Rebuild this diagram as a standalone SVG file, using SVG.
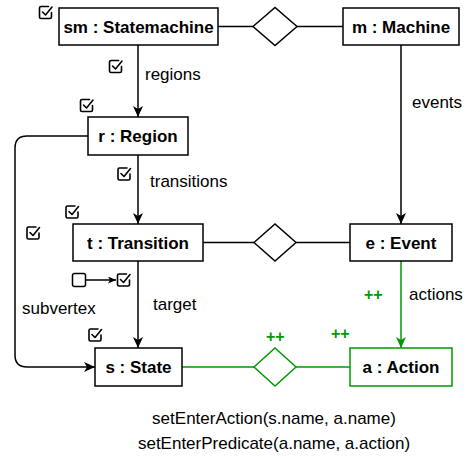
<svg xmlns="http://www.w3.org/2000/svg" width="466" height="458" viewBox="0 0 466 458">
  <style>
    .box { fill: #ffffff; stroke: #000000; stroke-width: 1.5; }
    .box.new { stroke: #009900; }
    .dia { fill: #ffffff; stroke: #000000; stroke-width: 1.5; }
    .dia.new { stroke: #009900; }
    .name { font-family: "Liberation Sans", Arial, sans-serif; font-size: 17px; font-weight: bold; fill: #000000; text-anchor: middle; dominant-baseline: central; }
    .lbl { font-family: "Liberation Sans", Arial, sans-serif; font-size: 17px; fill: #000000; }
    .plus { font-family: "Liberation Sans", Arial, sans-serif; font-size: 16px; font-weight: bold; fill: #009900; }
    .code { font-family: "Liberation Sans", Arial, sans-serif; font-size: 17px; fill: #000000; text-anchor: middle; }
    .edge { fill: none; stroke: #000000; stroke-width: 1.5; }
    .edge.new { stroke: #009900; }
    .chk { fill: none; stroke: #000000; stroke-width: 1.6; stroke-linecap: round; stroke-linejoin: round; }
  </style>
  <defs>
    <marker id="arrow" viewBox="0 0 11 10" refX="11" refY="5" markerWidth="11" markerHeight="10" markerUnits="userSpaceOnUse" orient="auto">
      <path d="M0,0 L11,5 L0,10 L3,5 z" fill="#000000"/>
    </marker>
    <marker id="arrow-new" viewBox="0 0 11 10" refX="11" refY="5" markerWidth="11" markerHeight="10" markerUnits="userSpaceOnUse" orient="auto">
      <path d="M0,0 L11,5 L0,10 L3,5 z" fill="#009900"/>
    </marker>
    <marker id="arrow-small" viewBox="0 0 8 7" refX="8" refY="3.5" markerWidth="8" markerHeight="7" markerUnits="userSpaceOnUse" orient="auto">
      <path d="M0,0 L8,3.5 L0,7 L2,3.5 z" fill="#000000"/>
    </marker>
    <!-- checked-box icon, 14x14 -->
    <g id="check">
      <path class="chk" d="M10,1 H2.5 Q1,1 1,2.5 V11.5 Q1,13 2.5,13 H11.5 Q13,13 13,11.5 V7"/>
      <path class="chk" d="M4,6.5 L7,9.5 L13.5,1.5"/>
    </g>
  </defs>

  <!-- connectors -->
  <g id="edges">
    <line class="edge" x1="218" y1="26.5" x2="253" y2="26.5"/>
    <line class="edge" x1="297" y1="26.5" x2="343" y2="26.5"/>
    <line class="edge" x1="138" y1="45" x2="138" y2="117" marker-end="url(#arrow)"/>
    <line class="edge" x1="401" y1="45" x2="401" y2="224" marker-end="url(#arrow)"/>
    <line class="edge" x1="138" y1="155" x2="138" y2="224" marker-end="url(#arrow)"/>
    <line class="edge" x1="203" y1="242.5" x2="254" y2="242.5"/>
    <line class="edge" x1="296" y1="242.5" x2="350" y2="242.5"/>
    <line class="edge" x1="138" y1="261" x2="138" y2="348" marker-end="url(#arrow)"/>
    <path class="edge" d="M88,136 H27 Q15,136 15,148 V355 Q15,367 27,367 H95" marker-end="url(#arrow)"/>
    <line class="edge new" x1="401" y1="261" x2="401" y2="348" marker-end="url(#arrow-new)"/>
    <line class="edge new" x1="182" y1="367" x2="254" y2="367"/>
    <line class="edge new" x1="296" y1="367" x2="350" y2="367"/>
    <line class="edge" x1="86" y1="280" x2="116" y2="280" stroke-width="1.2" marker-end="url(#arrow-small)"/>
  </g>

  <!-- association diamonds -->
  <g id="link-sm-m"><polygon class="dia" points="253,26.5 275,7.5 297,26.5 275,45.5"/></g>
  <g id="link-t-e"><polygon class="dia" points="254,242.5 275,224 296,242.5 275,261"/></g>
  <g id="link-s-a"><polygon class="dia new" points="254,367 275,348 296,367 275,386"/></g>

  <!-- nodes -->
  <g id="sm">
    <rect class="box" x="59" y="8" width="159" height="37"/>
    <text class="name" x="138.5" y="27">sm : Statemachine</text>
  </g>
  <g id="m">
    <rect class="box" x="343" y="8" width="116" height="37"/>
    <text class="name" x="401" y="27">m : Machine</text>
  </g>
  <g id="r">
    <rect class="box" x="88" y="117" width="100" height="38"/>
    <text class="name" x="138" y="136.5">r : Region</text>
  </g>
  <g id="t">
    <rect class="box" x="73" y="224" width="130" height="37"/>
    <text class="name" x="138" y="243">t : Transition</text>
  </g>
  <g id="e">
    <rect class="box" x="350" y="224" width="102" height="37"/>
    <text class="name" x="401" y="243">e : Event</text>
  </g>
  <g id="s">
    <rect class="box" x="95" y="348" width="87" height="38"/>
    <text class="name" x="138.5" y="367.5">s : State</text>
  </g>
  <g id="a">
    <rect class="box new" x="350" y="348" width="102" height="38"/>
    <text class="name" x="401" y="367.5">a : Action</text>
  </g>

  <!-- status markers -->
  <g id="checks">
    <use href="#check" x="38.5" y="5.5"/>
    <use href="#check" x="108.5" y="59.5"/>
    <use href="#check" x="79.5" y="98.5"/>
    <use href="#check" x="117" y="167"/>
    <use href="#check" x="65" y="205"/>
    <use href="#check" x="26" y="226"/>
    <use href="#check" x="116.5" y="273"/>
    <use href="#check" x="88" y="328"/>
    <rect x="72.5" y="273.5" width="13" height="13" rx="2" fill="none" stroke="#000000" stroke-width="1.5"/>
  </g>

  <!-- edge labels -->
  <g id="labels">
    <text class="lbl" x="145" y="80">regions</text>
    <text class="lbl" x="412" y="108">events</text>
    <text class="lbl" x="150" y="187">transitions</text>
    <text class="lbl" x="153" y="310">target</text>
    <text class="lbl" x="22" y="314">subvertex</text>
    <text class="lbl" x="409" y="300">actions</text>
    <text class="plus" x="364" y="300">++</text>
    <text class="plus" x="266" y="342">++</text>
    <text class="plus" x="331" y="339">++</text>
  </g>

  <!-- attribute conditions -->
  <g id="conditions">
    <text class="code" x="274" y="424">setEnterAction(s.name, a.name)</text>
    <text class="code" x="274" y="449">setEnterPredicate(a.name, a.action)</text>
  </g>
</svg>
